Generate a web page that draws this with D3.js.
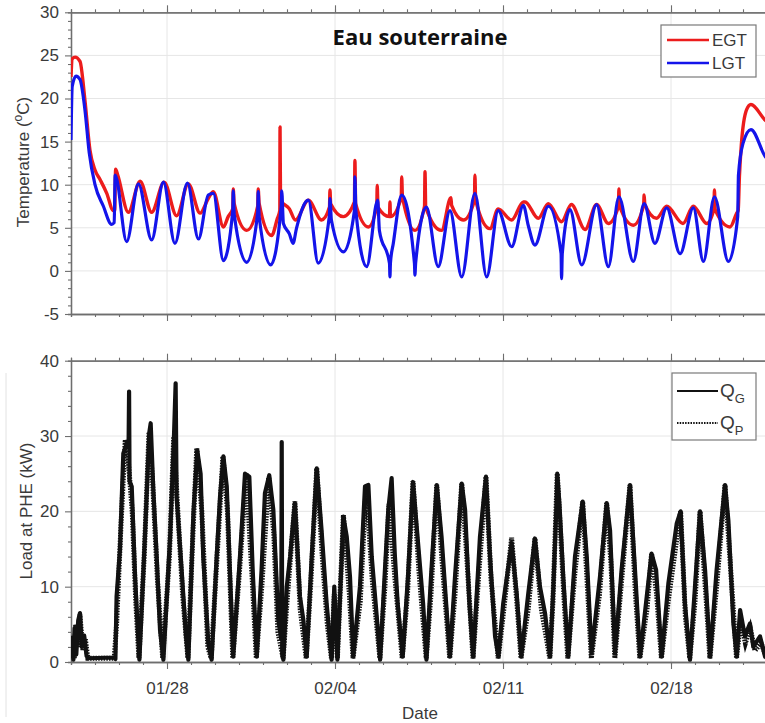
<!DOCTYPE html>
<html>
<head>
<meta charset="utf-8">
<script src="https://cdn.jsdelivr.net/npm/d3@7"></script>
<style>
  body { margin: 0; background: #fff; }
  svg { display: block; font-family: "Liberation Sans", Arial, sans-serif; }
</style>
</head>
<body>
<svg id="chart" width="765" height="723"></svg>
<script>
// day offsets from 01/24 00:00
var startDay = new Date(2017, 0, 24);
var nDays = 29;

var egt = [[0,22.5],[0.05,24.6],[0.17,24.8],[0.375,24.3],[0.58,19.8],[0.79,14.0],[1.0,11.7],[1.21,10.6],[1.49,9.0],[1.76,7.0],[1.82,7.0],
  [1.86,11.8],[1.95,11.1],[2.39,6.8],[2.88,10.4],[3.36,6.8],[3.88,10.3],[4.4,6.4],[4.89,10.1],[5.38,6.7],[5.72,8.4],[5.93,9.2],
  [6.35,5.1],[6.55,6.3],[6.74,7.2],[6.76,9.5],[6.8,7.8],[7.32,4.7],[7.78,7.5],[7.8,9.5],[7.84,7.8],[8.36,4.1],[8.6,6.1],[8.7,7.0],
  [8.71,16.7],[8.73,8.2],[9.1,7.2],[9.35,5.9],[9.89,8.2],[10.44,5.9],[10.77,7.4],[10.79,9.4],[10.82,7.8],[11.35,6.3],[11.81,8.0],
  [11.83,12.8],[11.86,7.8],[12.39,5.1],[12.74,7.5],[12.76,9.9],[12.79,7.4],[13.27,6.3],[13.29,8.0],[13.31,6.3],[13.76,8.5],[13.78,10.9],
  [13.81,8.6],[14.33,4.7],[14.73,7.5],[14.75,11.5],[14.78,7.4],[15.44,4.7],[15.83,8.5],[15.86,7.6],[16.35,5.9],[16.81,8.2],[16.83,11.1],
  [16.86,8.2],[17.46,4.9],[17.8,7.2],[18.36,5.9],[18.85,8.0],[18.92,8.0],[19.47,6.1],[19.89,7.8],[20.44,5.7],[20.85,7.7],[21.42,4.8],
  [21.9,7.7],[22.39,5.5],[22.81,7.5],[22.83,9.5],[22.86,7.5],[23.43,5.3],[23.86,7.6],[23.88,8.8],[23.91,7.7],[24.4,6.1],[24.82,7.5],
  [25.5,5.5],[25.93,7.5],[26.49,5.5],[26.79,7.2],[26.81,9.4],[26.84,7.1],[27.46,5.1],[27.74,6.7],[27.8,7.0],[27.85,10.9],[27.93,14.6],
  [28.15,18.7],[28.33,19.3],[28.92,17.5],[29,17.3]];

var lgt = [[0,15.2],[0.05,21.4],[0.21,22.6],[0.375,22.2],[0.58,18.7],[0.76,13.7],[1.0,10.0],[1.35,7.5],[1.69,5.4],[1.8,5.6],[1.84,11.1],
  [2.32,3.4],[2.81,10.1],[3.36,3.6],[3.85,10.3],[4.33,3.2],[4.85,10.2],[5.31,3.7],[5.72,8.8],[5.93,9.0],[6.35,1.2],[6.74,7.0],[6.76,9.3],
  [6.8,6.6],[7.32,1.0],[7.78,6.8],[7.8,9.2],[7.84,6.3],[8.32,0.7],[8.76,7.5],[8.78,9.3],[8.85,5.5],[9.1,4.3],[9.25,3.2],[9.4,5.0],
  [9.89,8.2],[10.3,0.9],[10.77,6.5],[10.79,8.4],[10.85,5.9],[11.35,2.2],[11.81,7.0],[11.83,10.9],[11.87,7.0],[12.32,0.5],[12.78,8.2],
  [12.85,4.7],[13.27,0.9],[13.29,-0.7],[13.31,0.9],[13.43,3.2],[13.78,8.8],[14.31,0.9],[14.33,-0.5],[14.36,0.9],[14.81,7.4],[15.3,0.5],
  [15.79,7.0],[16.28,-0.7],[16.83,9.0],[17.32,-0.7],[17.8,7.0],[18.36,2.8],[18.85,7.6],[19.05,5.3],[19.33,3.0],[19.89,7.5],[20.42,2.0],
  [20.44,-0.9],[20.47,2.0],[20.79,7.1],[21.28,0.7],[21.9,7.7],[22.39,0.5],[22.83,8.6],[23.43,1.1],[23.88,7.8],[24.33,3.2],[24.82,7.3],
  [25.38,2.0],[25.93,7.3],[26.35,1.1],[26.81,8.6],[27.39,1.1],[27.78,6.3],[27.81,11.1],[28.0,14.8],[28.33,16.4],[28.92,13.3],[29,13.0]];

var qg = [[0,0.5],[0.05,3.0],[0.1,0.3],[0.15,4.5],[0.22,1.0],[0.3,5.5],[0.375,6.5],[0.45,2.0],[0.55,3.5],[0.65,0.8],[0.72,0.5],[1.8,0.6],
  [1.85,0.4],[1.9,8.7],[2.04,14.9],[2.18,27.7],[2.32,29.0],[2.4,29.0],[2.42,35.9],[2.44,24.0],[2.53,23.3],[2.67,11.3],[2.76,5.6],[2.85,0.3],
  [3.08,16.6],[3.26,30.4],[3.32,31.7],[3.43,22.8],[3.57,14.0],[3.71,4.2],[3.85,0.3],[4.13,16.6],[4.29,29.9],[4.36,37.0],[4.4,22.0],
  [4.61,12.2],[4.79,3.4],[4.89,0.3],[5.1,19.7],[5.26,28.1],[5.4,25.0],[5.51,14.0],[5.72,2.5],[5.86,0.3],[6.07,14.0],[6.21,22.0],
  [6.35,27.3],[6.49,23.3],[6.63,11.3],[6.76,0.7],[7.04,14.0],[7.25,25.0],[7.43,24.6],[7.57,12.2],[7.74,0.7],[7.94,12.2],[8.08,22.4],
  [8.26,24.8],[8.43,20.2],[8.64,5.6],[8.76,3.0],[8.78,29.2],[8.8,1.0],[8.85,0.3],[8.99,10.0],[9.13,14.0],[9.26,18.8],[9.33,21.1],
  [9.54,8.7],[9.68,5.6],[9.82,0.7],[10.03,14.0],[10.24,25.7],[10.44,17.5],[10.65,7.8],[10.86,0.3],[10.97,10.0],[11.1,0.3],[11.35,19.3],
  [11.49,16.6],[11.625,11.3],[11.76,0.7],[12.04,10.0],[12.25,23.3],[12.39,23.5],[12.53,14.0],[12.74,6.0],[12.88,0.3],[13.08,12.2],
  [13.22,20.2],[13.36,24.4],[13.49,14.4],[13.61,7.8],[13.82,0.7],[14.04,11.3],[14.25,23.9],[14.46,15.8],[14.67,7.8],[14.81,0.3],
  [15.0,11.3],[15.24,23.5],[15.44,16.6],[15.65,6.9],[15.79,0.7],[16.0,11.3],[16.28,23.7],[16.42,20.2],[16.6,7.8],[16.76,0.7],[17.04,16.6],
  [17.29,24.6],[17.46,14.0],[17.67,3.4],[17.81,0.7],[18.01,7.8],[18.36,15.8],[18.57,9.1],[18.76,0.7],[19.05,9.0],[19.33,16.4],[19.54,10.0],
  [19.75,6.5],[19.96,0.7],[20.1,10.0],[20.24,22.0],[20.26,25.0],[20.35,21.1],[20.51,11.3],[20.72,0.7],[21.0,14.0],[21.32,21.3],[21.49,14.0],
  [21.69,1.2],[22.04,11.3],[22.32,21.1],[22.46,17.5],[22.67,1.2],[22.94,12.2],[23.29,23.5],[23.5,12.2],[23.71,0.7],[23.99,8.7],[24.19,14.4],
  [24.38,12.2],[24.61,0.7],[24.89,10.4],[25.24,18.4],[25.4,20.0],[25.58,7.8],[25.79,0.3],[26.0,10.0],[26.21,20.0],[26.42,12.2],[26.63,0.7],
  [26.9,12.2],[27.25,23.5],[27.39,18.8],[27.6,5.1],[27.74,0.7],[27.88,6.9],[28.08,3.4],[28.29,5.1],[28.43,2.0],[28.71,3.4],[28.92,0.7],[29,1.0]];

var qp = [[0,1.0],[0.08,3.5],[0.14,0.5],[0.2,5.0],[0.3,2.0],[0.37,6.3],[0.5,1.5],[0.6,3.0],[0.7,0.5],[1.8,0.5],[1.9,5.0],[2.08,18.0],
  [2.26,29.5],[2.38,27.0],[2.55,20.0],[2.7,8.0],[2.83,0.5],[3.05,14.0],[3.25,30.5],[3.4,24.0],[3.6,11.0],[3.82,0.5],[4.1,14.0],[4.28,29.9],
  [4.45,20.0],[4.65,9.0],[4.87,0.5],[5.08,17.0],[5.24,28.4],[5.45,20.0],[5.7,2.0],[5.84,0.5],[6.05,12.0],[6.33,27.3],[6.52,20.0],[6.74,0.5],
  [7.02,12.0],[7.3,25.0],[7.55,11.0],[7.72,0.5],[7.95,10.0],[8.24,24.5],[8.45,17.0],[8.62,4.0],[8.84,0.5],[9.0,8.0],[9.33,21.3],[9.55,7.0],
  [9.8,0.5],[10.0,11.0],[10.24,25.7],[10.47,14.0],[10.68,5.0],[10.85,0.5],[10.97,9.0],[11.1,0.5],[11.35,19.5],[11.6,9.0],[11.75,0.5],
  [12.05,8.0],[12.3,23.5],[12.55,11.0],[12.87,0.5],[13.08,10.0],[13.25,21.0],[13.5,11.0],[13.8,0.5],[14.02,9.0],[14.25,24.0],[14.5,12.0],
  [14.8,0.5],[15.0,9.0],[15.24,23.5],[15.47,13.0],[15.78,0.5],[16.0,9.0],[16.28,23.7],[16.45,16.0],[16.75,0.5],[17.02,13.0],[17.29,24.6],
  [17.5,11.0],[17.8,0.5],[18.0,6.0],[18.36,16.5],[18.6,7.0],[18.75,0.5],[19.05,7.0],[19.33,16.4],[19.6,7.0],[19.95,0.5],[20.08,8.0],
  [20.26,25.0],[20.4,17.0],[20.55,8.0],[20.7,0.5],[21.0,12.0],[21.32,21.3],[21.5,11.0],[21.68,0.5],[22.02,9.0],[22.32,21.1],[22.5,13.0],
  [22.66,0.5],[22.92,10.0],[23.29,23.5],[23.52,9.0],[23.7,0.5],[24.0,7.0],[24.19,14.4],[24.4,9.0],[24.6,0.5],[24.88,8.0],[25.4,20.0],
  [25.6,6.0],[25.78,0.5],[26.0,8.0],[26.21,20.0],[26.45,9.0],[26.62,0.5],[26.9,10.0],[27.25,23.5],[27.45,14.0],[27.73,0.5],[27.9,5.5],
  [28.1,2.5],[28.3,4.5],[28.5,1.5],[28.75,2.5],[29,0.5]];

var tempTicks = [-5, 0, 5, 10, 15, 20, 25, 30];
var loadTicks = [0, 10, 20, 30, 40];
var dateFmt = d3.timeFormat('%m/%d');

function toDate(d) { return new Date(startDay.getTime() + d * 864e5); }

var svg = d3.select('#chart');
var x0 = 71, x1 = 767;

var x = d3.scaleTime().domain([startDay, toDate(nDays)]).range([x0, x1]);
var yT = d3.scaleLinear().domain([-5, 30]).range([314, 12.3]);
var yL = d3.scaleLinear().domain([0, 40]).range([662, 360.7]);

var majorDays = d3.timeSaturday.range(startDay, toDate(nDays));
var allDays = d3.timeDay.range(startDay, toDate(nDays + 0.01));

// faint line at the far left of the lower panel
svg.append('line').attr('x1', 6).attr('x2', 6).attr('y1', 373).attr('y2', 717)
  .attr('stroke', '#e2e2e2').attr('stroke-width', 1);

function panel(y, yticks, minorStep, id) {
  var g = svg.append('g');
  var top = y.range()[1], bot = y.range()[0];
  // grid
  g.selectAll('.gx').data(majorDays).enter().append('line')
    .attr('x1', function (d) { return x(d); }).attr('x2', function (d) { return x(d); })
    .attr('y1', top).attr('y2', bot).attr('stroke', '#e6e6e6').attr('stroke-width', 1);
  g.selectAll('.gy').data(yticks.slice(1, -1)).enter().append('line')
    .attr('x1', x0).attr('x2', x1)
    .attr('y1', function (d) { return y(d); }).attr('y2', function (d) { return y(d); })
    .attr('stroke', '#e6e6e6').attr('stroke-width', 1);
  svg.append('clipPath').attr('id', id).append('rect')
    .attr('x', x0).attr('y', top).attr('width', x1 - x0).attr('height', bot - top);

  var minorY = d3.range(y.domain()[0], y.domain()[1] + 0.001, minorStep)
    .filter(function (v) { return yticks.indexOf(v) < 0; });
  var ax = svg.append('g').attr('class', 'axes');
  ax.append('g').attr('transform', 'translate(' + x0 + ',0)')
    .call(d3.axisLeft(y).tickValues(minorY).tickSize(3).tickFormat(''));
  ax.append('g').attr('transform', 'translate(0,' + bot + ')')
    .call(d3.axisBottom(x).tickValues(allDays).tickSize(3).tickFormat(''));
  ax.append('g').attr('transform', 'translate(0,' + top + ')')
    .call(d3.axisTop(x).tickValues(allDays).tickSize(3).tickFormat(''));
  ax.append('g').attr('transform', 'translate(0,' + top + ')')
    .call(d3.axisTop(x).tickValues(majorDays).tickSize(7).tickSizeOuter(0).tickFormat(''));
  ax.append('g').attr('class', 'yax').attr('transform', 'translate(' + x0 + ',0)')
    .call(d3.axisLeft(y).tickValues(yticks).tickSize(6).tickSizeOuter(0).tickPadding(6)
      .tickFormat(function (d) { return String(d); }));
  return { g: g, ax: ax, top: top, bot: bot };
}

var pT = panel(yT, tempTicks, 1, 'clipT');
var pL = panel(yL, loadTicks, 2, 'clipL');

pT.ax.append('g').attr('transform', 'translate(0,' + pT.bot + ')')
  .call(d3.axisBottom(x).tickValues(majorDays).tickSize(7).tickSizeOuter(0).tickFormat(''));
pL.ax.append('g').attr('class', 'xax').attr('transform', 'translate(0,' + pL.bot + ')')
  .call(d3.axisBottom(x).tickValues(majorDays).tickSize(7).tickSizeOuter(0).tickPadding(13).tickFormat(dateFmt));

svg.selectAll('.axes path.domain').attr('stroke', '#6e6e6e').attr('stroke-width', 1.3);
svg.selectAll('.axes .tick line').attr('stroke', '#6e6e6e').attr('stroke-width', 1.1);
svg.selectAll('.axes .tick text').attr('fill', '#3a3a3a').attr('font-size', 17)
  .attr('font-family', '"Liberation Sans", Arial, sans-serif');

// data lines
function lineFor(y, curve) {
  return d3.line().curve(curve || d3.curveLinear)
    .x(function (d) { return x(toDate(d[0])); }).y(function (d) { return y(d[1]); });
}
var dT = svg.append('g').attr('clip-path', 'url(#clipT)');
dT.append('path').datum(egt).attr('d', lineFor(yT, d3.curveMonotoneX)).attr('fill', 'none')
  .attr('stroke', '#ec1c1c').attr('stroke-width', 3.4).attr('stroke-linejoin', 'round');
dT.append('path').datum(lgt).attr('d', lineFor(yT, d3.curveMonotoneX)).attr('fill', 'none')
  .attr('stroke', '#1414ea').attr('stroke-width', 3.2).attr('stroke-linejoin', 'round');

var dL = svg.append('g').attr('clip-path', 'url(#clipL)');
dL.append('path').datum(qp).attr('d', lineFor(yL)).attr('fill', 'none')
  .attr('stroke', '#111').attr('stroke-width', 5).attr('stroke-dasharray', '1.5,1.2');
dL.append('path').datum(qg).attr('d', lineFor(yL)).attr('fill', 'none')
  .attr('stroke', '#111').attr('stroke-width', 4.2).attr('stroke-linejoin', 'round');

// title
svg.append('text').attr('x', 420).attr('y', 45).attr('text-anchor', 'middle')
  .attr('font-family', '"Open Sans", sans-serif').attr('font-weight', 'bold').attr('font-size', 22)
  .attr('fill', '#111').text('Eau souterraine');

// axis titles
var yt1 = svg.append('text').attr('transform', 'translate(29,162) rotate(-90)').attr('text-anchor', 'middle')
  .attr('font-size', 17).attr('fill', '#3a3a3a');
yt1.append('tspan').text('Temperature (');
yt1.append('tspan').attr('font-size', 12).attr('dy', -7).text('o');
yt1.append('tspan').attr('dy', 7).text('C)');

svg.append('text').attr('transform', 'translate(32,511) rotate(-90)').attr('text-anchor', 'middle')
  .attr('font-size', 17).attr('fill', '#3a3a3a').text('Load at PHE (kW)');
svg.append('text').attr('x', 420).attr('y', 719).attr('text-anchor', 'middle')
  .attr('font-size', 17).attr('fill', '#3a3a3a').text('Date');

// legends
var seriesT = [{ name: 'EGT', color: '#ec1c1c' }, { name: 'LGT', color: '#1414ea' }];
var lg1 = svg.append('g');
lg1.append('rect').attr('x', 661).attr('y', 25).attr('width', 95).attr('height', 52)
  .attr('fill', '#fff').attr('stroke', '#7a7a7a').attr('stroke-width', 1.2);
seriesT.forEach(function (s, i) {
  var yy = 40 + i * 23;
  lg1.append('line').attr('x1', 667).attr('x2', 709).attr('y1', yy).attr('y2', yy)
    .attr('stroke', s.color).attr('stroke-width', 2.5);
  lg1.append('text').attr('x', 712).attr('y', yy + 6).attr('font-size', 17).attr('fill', '#3a3a3a').text(s.name);
});

var seriesL = [{ sub: 'G', dash: null }, { sub: 'P', dash: '1.5,1.2' }];
var lg2 = svg.append('g');
lg2.append('rect').attr('x', 672).attr('y', 373).attr('width', 84).attr('height', 67)
  .attr('fill', '#fff').attr('stroke', '#7a7a7a').attr('stroke-width', 1.2);
seriesL.forEach(function (s, i) {
  var yy = 391 + i * 32;
  lg2.append('line').attr('x1', 677).attr('x2', 718).attr('y1', yy).attr('y2', yy)
    .attr('stroke', '#111').attr('stroke-width', 2).attr('stroke-dasharray', s.dash);
  var t = lg2.append('text').attr('x', 720).attr('y', yy + 6).attr('font-size', 19).attr('fill', '#3a3a3a');
  t.append('tspan').text('Q');
  t.append('tspan').attr('font-size', 13).attr('dy', 6).text(s.sub);
});
</script>
</body>
</html>
